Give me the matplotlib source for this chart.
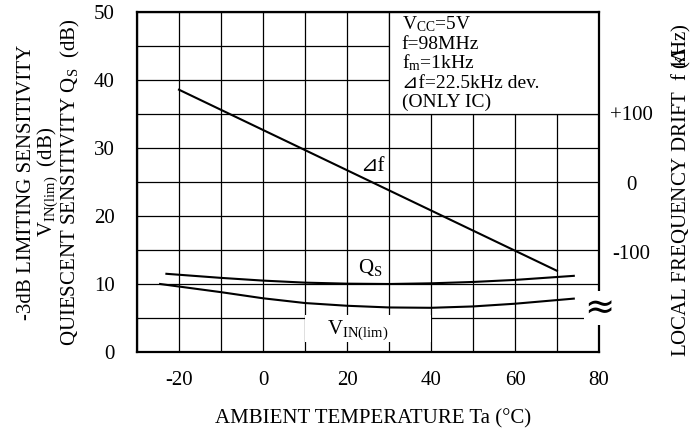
import numpy as np
import matplotlib
matplotlib.use("Agg")
import matplotlib.pyplot as plt
from matplotlib.patches import Rectangle

plt.rcParams['font.family'] = ['Liberation Serif', 'DejaVu Sans']
plt.rcParams['mathtext.fontset'] = 'custom'
plt.rcParams['mathtext.rm'] = 'Liberation Serif'
plt.rcParams['mathtext.it'] = 'Liberation Serif:italic'
plt.rcParams['axes.unicode_minus'] = False

# data
temp_qs = [-23, -10, 0, 10, 20, 30, 40, 50, 60, 74]
qs_db = [11.5, 10.9, 10.5, 10.2, 10.05, 10.0, 10.1, 10.3, 10.6, 11.2]

temp_vin = [-24.5, -10, 0, 10, 20, 30, 40, 50, 60, 74]
vin_db = [10.0, 8.8, 7.9, 7.2, 6.8, 6.55, 6.5, 6.7, 7.1, 7.85]

temp_df = [-20, 70]
drift_khz = [134, -127]

x_ticks = [-20, 0, 20, 40, 60, 80]
y_ticks = [0, 10, 20, 30, 40, 50]
r_ticks = [100, 0, -100]
r_labels = ['+100', '0', '-100']

FS = 15

fig = plt.figure(figsize=(6.94, 4.41), dpi=100)
ax = fig.add_axes([137/694, 1-352/441, 462/694, 340/441])

ax.set_xlim(-30, 80)
ax.set_ylim(0, 50)
ax.set_xticks(x_ticks)
ax.set_xticks(np.arange(-30, 81, 10), minor=True)
ax.set_yticks(y_ticks)
ax.set_yticks(np.arange(0, 51, 5), minor=True)
ax.grid(True, which='both', color='black', linewidth=0.9)
ax.set_axisbelow(True)
ax.tick_params(which='both', length=0, labelsize=FS)
ax.tick_params(axis='x', pad=14)
ax.tick_params(axis='y', pad=16)
for s in ax.spines.values():
    s.set_linewidth(1.6)

# white boxes that blank the grid
ax.add_patch(Rectangle((30, 35), 50, 15, facecolor='white', edgecolor='black',
                       linewidth=0.9, zorder=1.5))
ax.add_patch(Rectangle((10, 1.5), 30, 3.9, facecolor='white', edgecolor='none',
                       zorder=1.5))

ax.plot(temp_qs, qs_db, color='black', linewidth=1.5, zorder=3)
ax.plot(temp_vin, vin_db, color='black', linewidth=1.5, zorder=3)

ax2 = ax.twinx()
ax2.set_ylim(-244, 246)
ax2.set_yticks(r_ticks)
ax2.set_yticklabels(r_labels)
ax2.tick_params(length=0, labelsize=FS, pad=23)
for lab in ax2.get_yticklabels():
    lab.set_horizontalalignment('center')
for s in ax2.spines.values():
    s.set_visible(False)
ax2.plot(temp_df, drift_khz, color='black', linewidth=1.5, zorder=3)

# curve labels
ax.text(25.5, 12.4, r'Q$_{\rm S}$', fontsize=FS, ha='center', va='center', zorder=4)
ax.text(22.5, 3.2, r'V$_{\rm IN(lim)}$', fontsize=FS, ha='center', va='center', zorder=4)
ax.text(26, 27.3, '\u22bff', fontsize=FS, ha='center', va='center', zorder=4)

# condition box
cond = [r'V$_{\rm CC}$=5V', 'f=98MHz', r'f$_{\rm m}$=1kHz',
        '\u22bff=22.5kHz dev.', '(ONLY IC)']
for i, t in enumerate(cond):
    ax.text(33.0, 47.4 - i * 2.85, t, fontsize=14, ha='left', va='baseline', zorder=4)

# break mark on the right spine
ax.text(80.0, 6.4, '\u2248', fontsize=26, ha='center', va='center', zorder=5,
        family=['DejaVu Sans'], clip_on=False,
        bbox=dict(facecolor='white', edgecolor='none', pad=0))

fig.text(373/694, 1-423/441, 'AMBIENT TEMPERATURE Ta (\u00b0C)', fontsize=FS,
         ha='center', va='baseline')

ylab_y = 1-182/441
fig.text(31/694, ylab_y, '-3dB LIMITING SENSITIVITY', rotation=90, fontsize=FS,
         ha='center', va='baseline', rotation_mode='anchor')
fig.text(52/694, ylab_y, r'V$_{\rm IN(lim)}$  (dB)', rotation=90, fontsize=FS,
         ha='center', va='baseline', rotation_mode='anchor')
fig.text(75/694, ylab_y, r'QUIESCENT SENSITIVITY Q$_{\rm S}$  (dB)', rotation=90,
         fontsize=FS, ha='center', va='baseline', rotation_mode='anchor')
fig.text(686/694, 1-190/441, r'LOCAL FREQUENCY DRIFT  f ($\Delta\!\!\!\!\!\!\!$kHz)',
         rotation=90, fontsize=FS, ha='center', va='baseline', rotation_mode='anchor')

fig.savefig('out.png', dpi=100)
